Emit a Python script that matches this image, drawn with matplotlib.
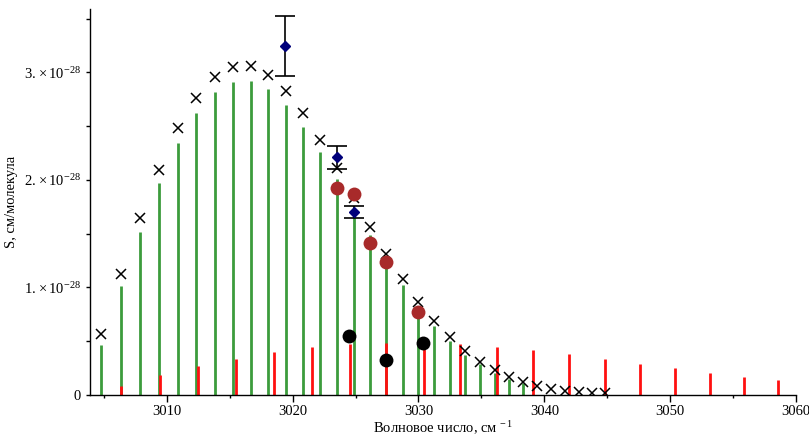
import numpy as np
import matplotlib
matplotlib.use("Agg")
import matplotlib.pyplot as plt
from matplotlib.ticker import FixedLocator, FuncFormatter

plt.rcParams['font.family'] = ['Liberation Serif', 'DejaVu Serif']
plt.rcParams['mathtext.fontset'] = 'custom'
plt.rcParams['mathtext.rm'] = 'Liberation Serif'
plt.rcParams['mathtext.it'] = 'Liberation Serif:italic'

E = 1e-28

# wavenumbers of the calculated lines (cm^-1)
nu_calc = [3004.79, 3006.35, 3007.88, 3009.39, 3010.87, 3012.35, 3013.81, 3015.24,
           3016.67, 3018.06, 3019.44, 3020.79, 3022.19, 3023.54, 3024.87, 3026.13,
           3027.46, 3028.75, 3030.00, 3031.24, 3032.48, 3033.67, 3034.87, 3036.06,
           3037.19, 3038.30, 3039.44, 3040.56, 3041.63, 3042.72, 3043.75, 3044.81]
# crosses (units of 1e-28)
s_cross = [0.567, 1.123, 1.647, 2.096, 2.481, 2.766, 2.958, 3.054, 3.058, 2.974,
           2.828, 2.62, 2.375, 2.109, 1.835, 1.566, 1.309, 1.076, 0.868, 0.688,
           0.537, 0.412, 0.31, 0.23, 0.17, 0.118, 0.086, 0.057, 0.036, 0.027,
           0.022, 0.015]
# green sticks
s_green = [0.468, 1.014, 1.52, 1.972, 2.344, 2.626, 2.819, 2.914, 2.921, 2.844,
           2.695, 2.496, 2.26, 2.006, 1.74, 1.488, 1.24, 1.02, 0.825, 0.642,
           0.505, 0.375, 0.288, 0.202, 0.146, 0.109]

# red sticks
nu_red = [3006.35, 3009.44, 3012.48, 3015.52, 3018.54, 3021.53, 3024.55, 3027.46,
          3030.42, 3033.33, 3036.24, 3039.13, 3041.95, 3044.79, 3047.62, 3050.40,
          3053.14, 3055.87, 3058.60]
s_red = [0.087, 0.183, 0.27, 0.338, 0.40, 0.447, 0.474, 0.487, 0.484, 0.474,
         0.449, 0.419, 0.378, 0.335, 0.291, 0.251, 0.208, 0.170, 0.137]

# measured points with errors
nu_meas = [3019.41, 3023.54, 3024.87]
s_meas = [3.249, 2.211, 1.702]
err_meas = [0.28, 0.105, 0.058]

nu_brown = [3023.54, 3024.87, 3026.16, 3027.46, 3030.00]
s_brown = [1.928, 1.867, 1.411, 1.24, 0.769]

nu_black = [3024.52, 3027.46, 3030.40]
s_black = [0.549, 0.326, 0.487]

fig = plt.figure(figsize=(8.09, 4.38), dpi=100)
ax = fig.add_axes([0.1112, 0.0982, 0.8728, 0.8813])

ax.vlines(nu_calc[:len(s_green)], 0, np.array(s_green) * E, color='#3c9c3c', lw=2)
ax.vlines(nu_red, 0, np.array(s_red) * E, color='#ff1010', lw=2)
ax.plot(nu_calc, np.array(s_cross) * E, 'x', color='black', ms=7, mew=1.1)
ax.plot(nu_brown, np.array(s_brown) * E, 'o', color='#a82a2a', ms=10, mec='none')
ax.plot(nu_black, np.array(s_black) * E, 'o', color='black', ms=10, mec='none')
ax.errorbar(nu_meas, np.array(s_meas) * E, yerr=np.array(err_meas) * E, fmt='D',
            color='#00007a', ms=5, ecolor='black', elinewidth=1.2, capsize=7,
            capthick=1.2)

ax.set_xlim(3003.9, 3060)
ax.set_ylim(0, 3.59e-28)

for side in ['top', 'right']:
    ax.spines[side].set_visible(False)
for side in ['left', 'bottom']:
    ax.spines[side].set_linewidth(1.0)

ax.xaxis.set_major_locator(FixedLocator([3010, 3020, 3030, 3040, 3050, 3060]))
ax.xaxis.set_minor_locator(FixedLocator([3005, 3015, 3025, 3035, 3045, 3055]))
ax.yaxis.set_major_locator(FixedLocator([0, 1e-28, 2e-28, 3e-28]))
ax.yaxis.set_minor_locator(FixedLocator([0.5e-28, 1.5e-28, 2.5e-28, 3.5e-28]))


def yfmt(v, pos):
    k = int(round(v / E))
    if k == 0:
        return '0'
    return r'%d. $\times\,10^{-28}$' % k


ax.yaxis.set_major_formatter(FuncFormatter(yfmt))
ax.tick_params(axis='x', which='major', direction='out', length=5, width=1, labelsize=10.5, pad=2.5)
ax.tick_params(axis='x', which='minor', direction='out', length=2.5, width=1)
ax.tick_params(axis='y', which='both', direction='out', length=3, width=1, labelsize=10.5)

ax.set_xlabel(r'Волновое число, см$^{\,-1}$', fontsize=10.5, labelpad=1)
ax.set_ylabel('S, см/молекула', fontsize=10.5, labelpad=4)

fig.savefig('out.png', dpi=100)
